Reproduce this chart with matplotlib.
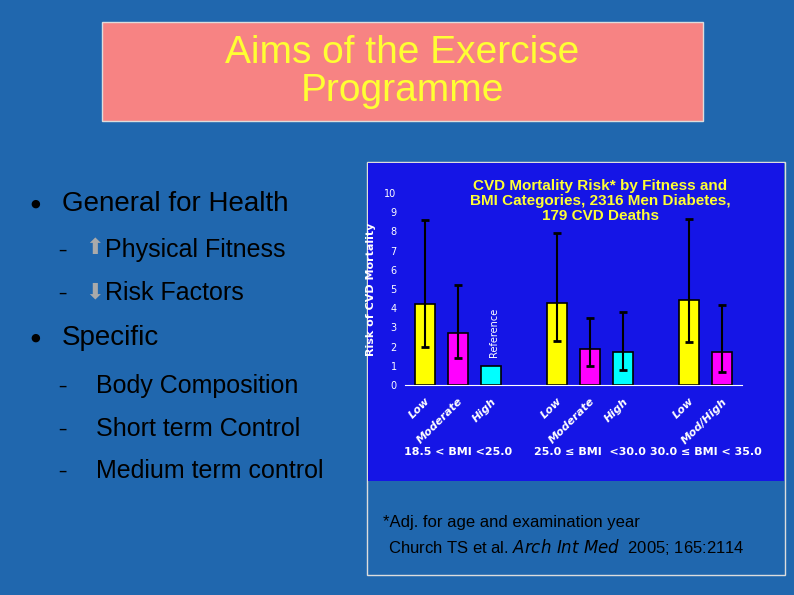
import matplotlib
matplotlib.use("Agg")
import matplotlib.pyplot as plt
from matplotlib.patches import Rectangle

categories = ["Low", "Moderate", "High", "Low", "Moderate", "High", "Low", "Mod/High"]
positions = [0, 1, 2, 4, 5, 6, 8, 9]
risk = [4.2, 2.7, 1.0, 4.25, 1.85, 1.7, 4.45, 1.7]
ci_low = [2.0, 1.4, None, 2.3, 1.0, 0.8, 2.25, 0.7]
ci_high = [8.6, 5.2, None, 7.9, 3.5, 3.8, 8.65, 4.15]
colors = ["#FFFF00", "#FF00FF", "#00FFFF", "#FFFF00", "#FF00FF", "#00FFFF", "#FFFF00", "#FF00FF"]
groups = ["18.5 < BMI <25.0", "25.0 ≤ BMI  <30.0", "30.0 ≤ BMI < 35.0"]
group_x = [1, 5, 8.5]

W, H = 794, 595
fig = plt.figure(figsize=(W/100, H/100), dpi=100)
fig.patch.set_facecolor("#2067AE")

def fx(px): return px / W
def fy(py): return 1 - py / H

# title box
fig.patches.append(Rectangle((fx(102), fy(121)), (703-102)/W, (121-22)/H, transform=fig.transFigure,
                             facecolor="#F78383", edgecolor="#DDDDDD", lw=1))
fig.text(fx(402), fy(72), "Aims of the Exercise\nProgramme", color="#FFFF33", fontsize=28,
         ha="center", va="center", linespacing=1.1, family="Liberation Sans")

# bullets
fs = 20
fig.text(fx(30), fy(204), "●", color="black", fontsize=8, va="center")
fig.text(fx(62), fy(204), "General for Health", color="black", fontsize=fs, va="center", family="Liberation Sans")
fig.text(fx(30), fy(338), "●", color="black", fontsize=8, va="center")
fig.text(fx(62), fy(338), "Specific", color="black", fontsize=fs, va="center", family="Liberation Sans")
subs = [(250, "Physical Fitness", 105), (293, "Risk Factors", 105), (386, "Body Composition", 96),
        (429, "Short term Control", 96), (471, "Medium term control", 96)]
for y, t, x in subs:
    fig.text(fx(58), fy(y), "–", color="black", fontsize=12, va="center")
    fig.text(fx(x), fy(y), t, color="black", fontsize=18, va="center", family="Liberation Sans")
fig.text(fx(95), fy(248), "⬆", color="#AAAAAA", fontsize=16, va="center", ha="center")
fig.text(fx(95), fy(292), "⬇", color="#AAAAAA", fontsize=16, va="center", ha="center")

# chart panel
fig.patches.append(Rectangle((fx(367), fy(575)), (785-367)/W, (575-162)/H, transform=fig.transFigure,
                             facecolor="none", edgecolor="#DDDDDD", lw=1))
fig.patches.append(Rectangle((fx(368), fy(481)), (784-368)/W, (481-163)/H, transform=fig.transFigure,
                             facecolor="#1515E6", edgecolor="none"))

ax = fig.add_axes([fx(405), fy(385), (742-405)/W, (385-193)/H])
ax.set_zorder(5)
ax.set_facecolor("none")
ax.bar(positions, risk, width=0.62, color=colors, edgecolor="black", lw=1.2, zorder=2)
for p, r, lo, hi in zip(positions, risk, ci_low, ci_high):
    if lo is not None:
        ax.errorbar(p, r, yerr=[[r-lo], [hi-r]], color="black", lw=1.5, capsize=3, capthick=2, zorder=3)
ax.set_xlim(-0.6, 9.6)
ax.set_ylim(0, 10)
ax.set_yticks(range(0, 11))
ax.tick_params(axis="y", colors="white", labelsize=7, length=0, pad=6)
ax.set_xticks(positions)
ax.set_xticklabels(categories, rotation=45, ha="right", rotation_mode="anchor",
                   color="white", fontsize=8, fontweight="bold", fontstyle="italic")
ax.tick_params(axis="x", length=0, pad=8)
for s in ["top", "right", "left"]:
    ax.spines[s].set_visible(False)
ax.spines["bottom"].set_color("white")
ax.set_ylabel("Risk of CVD Mortality", color="white", fontsize=8, fontweight="bold", labelpad=6)
ax.text(2.1, 1.45, "Reference", rotation=90, color="white", fontsize=7, ha="center", va="bottom")
for gx, g in zip(group_x, groups):
    ax.text(gx, -3.5, g, color="white", fontsize=8, fontweight="bold", ha="center", va="center")

fig.text(fx(600), fy(201), "CVD Mortality Risk* by Fitness and\nBMI Categories, 2316 Men Diabetes,\n179 CVD Deaths",
         color="#FFFF33", fontsize=11, fontweight="bold", ha="center", va="center", linespacing=1.1,
         family="Liberation Sans", zorder=6)

fig.text(fx(383), fy(523), "*Adj. for age and examination year", color="black", fontsize=12,
         va="center", family="Liberation Sans")
fig.text(fx(388), fy(547), "Church TS et al. $\\it{Arch\\ Int\\ Med}$  2005; 165:2114", color="black",
         fontsize=12, va="center", family="Liberation Sans")

fig.savefig("out.png", dpi=100, facecolor=fig.get_facecolor())
